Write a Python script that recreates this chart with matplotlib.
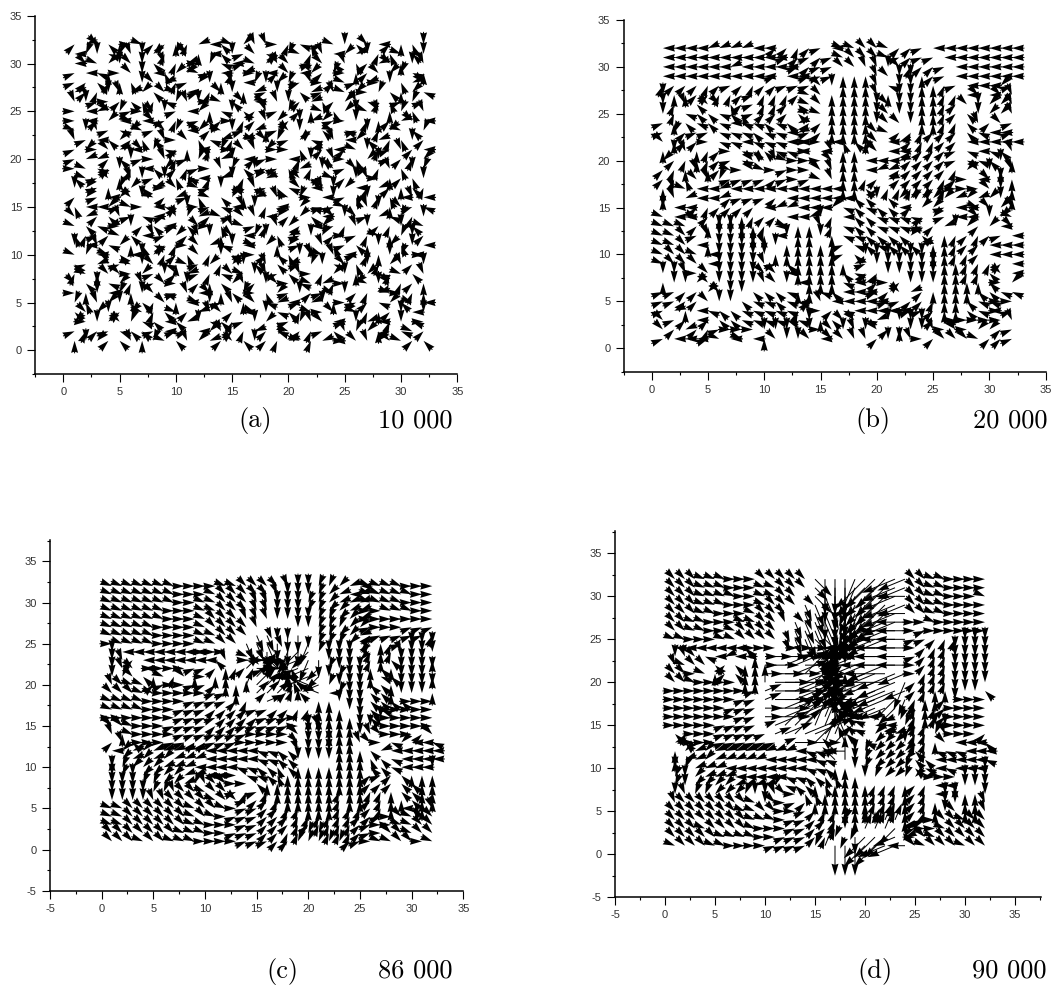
import matplotlib
matplotlib.use('Agg')
import numpy as np
import matplotlib.pyplot as plt
from matplotlib.ticker import MultipleLocator, NullFormatter

plt.rcParams['font.family'] = ['Liberation Sans', 'DejaVu Sans']
plt.rcParams['axes.unicode_minus'] = False

# one letter per arrow, rows from y=32 down to y=1, columns x=1..32
# a=east, then 22.5 degrees counter clockwise per letter (e=north, i=west, m=south)
SECTORS = 'abcdefghijklmnop'

DIR_A = [
    'cjogeapccedjigpknnadhfbpmgoicefm', 'ilmhlnmkdloeigmbohclpdnikjmdfpgm',
    'iopkmomgndjalhibpknohbognfcjoemn', 'biheaomifkkpbidjaicoikclaecoklhe',
    'bcgdefmojdbkmenilmklbnacpbjamfjo', 'jcdmnjkgopibdomejbmlgjbnpkalgekh',
    'nmbacgfdhlnmapgoipnmcjfcknhdfblb', 'aijolbaombikehmgcnblcepfkmpnelfn',
    'aickipiobdgbfcadcnkcmjkbamdecjoi', 'pmnbhkpbolikcpmbjebomcgphbmdkpgl',
    'nbigkcfgnaofhjdjpolbkhdnikgjdfmc', 'bkaojiolhceidlaonkaafjcicpmdbnci',
    'bjjcgmbandblnjmicbaidmgnafkmbcdk', 'aphcmdigkcdbanlgmbbfjdmobobdnfml',
    'gpboenmbmfhidjmdkjokogbpcmnaecfm', 'mkbelkgjaolpbmhbnbfhoinmkidjcegd',
    'ckbikompcjbfpglejonplaimbfmdfini', 'fiikbpaihcmabhinmdibkhbbplnmeobh',
    'ojcgnbhibnljcpbonikckgiomobjhldm', 'pghjamcgibgoafnpbdnkcikbdnmcdmgp',
    'fdbcpginbkcnmeoilmfjbmlcabdpelmc', 'minhkefhcdaojhmipkekbenfbgemkfmi',
    'plipgimkdcfodmgbacgfmnpnibdemlia', 'gbjnbpmohepbkdkmgngjblmhofmdkncm',
    'dpeooakbmcjbdhopmnbgnadkmekhdpgn', 'ogmhkdnboamcegkncmoahpjdakpmodce',
    'aemilemohbnioeglafkbmcbpmcdjpade', 'lfnkmfgdoeipmbneohjibjmeabchkgpi',
    'gokmckpdgpcjnocipmhgdpaokpdecmim', 'kamkolhgigjmhgdbmkfblnoibmjidmha',
    'bdcbhggbibbikncdjchpcdbgnlkebhpc', 'emkcgnelpgnkjcogmcdjpdjiaonkopcg',
]

DIR_B = [
    'iiiijjjjiiccdcbippoopccbiiiiiiii', 'iiiiiiiiiiibcbcbpooopbcbbiiiiiii',
    'iiiiiijiiiiibcbboonnmodccbiiiiii', 'iiiiiiiiiibiibbbeeenommecbiiiiii',
    'dcccdcbcdccbbbomeeenhmmeedbiiikb', 'meeccddcbdddcpoeeeenemmeeddioion',
    'mdngoofcbddcgpoeeeemommeedcomkkn', 'mdhgghgfbcccgppeeeemommeedcgmkkn',
    'beghghihhghgjcceeeemoomeeddgncob', 'blcbbhhhghhijbceeeeopcddcccghiib',
    'oeccahhihhhiiaaifgeoijcddcciiiii', 'emnedcahgghhiaineeloiiccccbhihgn',
    'kcdedcbhoonpaaaoeeiiijccccbhhgme', 'cdenecpaopabaaoneeijjcccccdkomen',
    'cdfonlbbbbcbabpneedcjccccdcaiome', 'enpiijiiiiiiiiiieegcdddccdaaaome',
    'enjiijcbbbciiiiiiggmgkkkkkjkjkme', 'miicdccccijjiiikhghggickkbiipokn',
    'piipceeedcciijmdigghhhhckbiiomkp', 'pppcemmeedipeendhgghhhhbcjmkckio',
    'ppobnmmmeeimeemehhggggkgcedcdcbi', 'ppoiemmmmnmeeeeebhghgggjeedcciii',
    'poopimmmmmeeeeeebgmmmmmmeeddciii', 'poooimmmmnbgeeeeejbmmmmmmeedddci',
    'mmnaommmmooieeeeghcdmmmmmeeddgoi', 'emmkommmmnomieeehijcacmmmeeeegak',
    'bbcckommgggheehgiiibcojceeeegghh', 'bbccommghhghhcniiiiibbccdeeghhaa',
    'bjeihgghhhhhdnachiiiiibbceeghiab', 'obcicgghhhhhhmegoohjmmmmchaaaaan',
    'ocjcdbaaammmnmaomnmocemmnaoakkcb', 'biiibpipieommoioonncmmnacooopccb',
]

DIR_C = [
    'pppppppaaaappoooonmmllkjippppaaa', 'pppppppaaapooooonmmmlkjijpppppaa',
    'pppppppaappooonnmmmllkjjjppppaaa', 'ppppppaaappooonnmmmllkkjjaapppaa',
    'ppppppaaapooonnnmmmmllkkjaaaaaaa', 'pppppaaaapoooonnmmmmlllkkbaaabbb',
    'pppppaaaappooonnnmmmllkkjcbbbbbd', 'appppaaaappoonnnmmmllllkjcedbmmm',
    'miiiiiiiiaaapoommlkklmmmkdednmmm', 'mnciiiiiiignaaaaiijlmmmmkdegmmme',
    'mnoiaaaabbcedcaaggjjklmmmegemmmm', 'mlogepdoeaeecbccbfijkmlmmehgmmme',
    'noppcbaabbceedccdefhjlmmmggemmmm', 'oooppaaaaabbeecccdfghilmmmggemme'[:25] + 'ggemmme',
    'ppppaaaabbbbcdcbcdegeemmmggggaaa', 'ppppaaabbbccccbbccddeeemmghaaaaa',
    'aaaaaaabbbbccccbbbaeeeeemgmaaaaa', 'oopaaabbbbcccbbbbbamneeemmnaaaaa',
    'nepaaaabbbbbbbaaaaommeeemnoaaaco', 'cngaaabbccbbbaaaaaommmeenoahkiih',
    'ikjkjjjjjiiiiihhggnmmmeeegjiiiii', 'ekjkjkjjjiiiiihhggmmmmeeefghiiii',
    'mlkkkjjjiiiihhggfgeeeeeeegghiiim', 'mlmkkkkjjiiaahhgfeeeeeeeecbcgeee',
    'mmmllkkjlnooaageeeeeeeeeecccggee', 'mmmmllnoopoobdbdeeeeeedeeddeggee',
    'mmmmnnoooopoobccdeeeeedeecdeegee', 'ppoooooopoopabbccddeeedddcdeigen',
    'ppoooooopopabbbcccddddddccbaopoo', 'ppooooooppaaabbcccdcddddcbaappoo',
    'ooooooopppaabbbccddlldddcbaoopoo', 'ooopoopppaaaabbbcclllllcbappooap',
]

DIR_D = [
    'ooopppaaaoooooommmlkkkjjiooppaaaa'[:24] + 'ooppaaaa', 'ooopppaaappoooommmlkkkjjooppaaaa',
    'oooppppaappoooonmmllkkjiooppaaap', 'ooopppaaapooonnmmmllkkjjooppaaaa',
    'oooppaaapoooonnnmmllkkjiooppaaaa', 'ooppaaappoonnnnnmmlkkjjiaapaaaaa',
    'ooppaapoooonnnnnmlkkjjiiabaaaaaa', 'ppaaappoooonnnoomlkjjjiibbcddmmm',
    'iiiiiiigaaaaaaamkkjiiiiiacddmmmm', 'mnohijiieaaaaaaaijjiiiiibcddmmmm',
    'npoogcgeeaabbaaaiijjijiiacddmmmm', 'ooapecgeeaaabcbbehijjijjadddmmmm',
    'oopaaaaeeeaaabccehjjjijlcdddmmmm', 'aaaaaaaabbaabbbcdeikjjjjcdeemmmg',
    'aaaaaaabbbaabbccegijjjkldeecmaaa', 'aaaaaabbbaabbccdeghjjjkldedcaaaa',
    'aaaaaaabbaabbbcdeghiiijkdedcaaaa', 'aaaaabbbbbbcccddefghiiclddmmaaaa',
    'gdaaabbbbbbbcbbcdfghkjjkddlnaaac', 'jgaaabbbbbbbaacdcfghkkkmddeoiiig',
    'ekjkjjjjjjjjihhigimlkkkkgdhhhiii', 'ejjkjjjjjiiiiihhgemlkkkkggiiiiih',
    'mljjjiiiiiiiihhgeemlkkklghihiiim', 'lmkjjjiiiiihhggffeemlkklkjaaammm',
    'lmkkkkjjjjlhggefeeeedddecdiiemmm', 'mnllkkklmmnoaffeeeeedddecdimmeem',
    'nooooooopmoabceeeeeedddecdemmeen', 'oooooooppooaabcddeeeeddecdemoeen',
    'oooooooopppabbccdleedddecbaoopoo', 'ooopoooopaaabbccdmldddkjbaapoooo',
    'oooooppppaabbbcdllmkkkjjaopooooo', 'poooppaaaabbbbldmmmkkjjiopooopoo',
]

# shaft length per arrow, 0 = only a head at the grid point, otherwise digit * 6 px
ZERO = '0' * 32
LEN_C = [ZERO] * 5 + [
    '0' * 15 + '222' + '0' * 14,
    '0' * 14 + '332332' + '0' * 12,
    '0' * 13 + '3343444' + '0' * 12,
    '0' * 12 + '23443454' + '0' * 12,
    '0' * 12 + '233134443' + '0' * 11,
    '0' * 13 + '33233553' + '0' * 11,
    '0' * 12 + '233233453' + '0' * 11,
    '0' * 13 + '34332343' + '0' * 11,
    '0' * 13 + '23332234' + '0' * 11,
    '0' * 14 + '232222' + '0' * 12,
] + [ZERO] * 17

LEN_D = [
    '0' * 14 + '4666777765' + '0' * 8,
    '0' * 14 + '3666777765' + '0' * 8,
    '0' * 13 + '24667777765' + '0' * 8,
    '0' * 13 + '34667777765' + '0' * 8,
    '0' * 12 + '234667777765' + '0' * 8,
    '0' * 12 + '345667777765' + '0' * 8,
    '0' * 11 + '2356677777765' + '0' * 8,
    '0' * 11 + '2345566777765' + '0' * 8,
    '0' * 11 + '2345522477775' + '0' * 8,
    '0' * 9 + '234553224566775' + '0' * 8,
    '0' * 9 + '245663224566775' + '0' * 8,
    '0' * 9 + '356663334566775' + '0' * 8,
    '0' * 9 + '367664434566775' + '0' * 8,
    '0' * 9 + '367765423456774' + '0' * 8,
    '0' * 9 + '367766322456653' + '0' * 8,
    '0' * 9 + '367777432345542' + '0' * 8,
    '0' * 9 + '367777432234320' + '0' * 8,
    '0' * 9 + '267777543220000' + '0' * 8,
    '0' * 10 + '35677654220000' + '0' * 8,
    '0' * 11 + '2466543200000' + '0' * 8,
    '0' * 16 + '34' + '0' * 14,
    '0' * 16 + '34' + '0' * 14,
] + [ZERO] * 6 + [
    '0' * 19 + '2233' + '0' * 9,
    '0' * 18 + '23344' + '0' * 9,
    '0' * 17 + '235554' + '0' * 9,
    '0' * 15 + '455555553' + '0' * 8,
]

CAPTIONS = [('(a)', '10 000'), ('(b)', '20 000'), ('(c)', '86 000'), ('(d)', '90 000')]
W, H = 1063, 992


def draw_arrows(ax, rows, lens=None):
    short_x, short_y, short_a = [], [], []
    long_x, long_y, long_a, long_l = [], [], [], []
    assert len(rows) == 32
    for r, row in enumerate(rows):
        assert len(row) == 32, row
        for c, ch in enumerate(row):
            a = SECTORS.index(ch) * 22.5
            d = int(lens[r][c]) if lens else 0
            if d == 0:
                short_x.append(c + 1)
                short_y.append(32 - r)
                short_a.append(a)
            else:
                long_x.append(c + 1)
                long_y.append(32 - r)
                long_a.append(a)
                long_l.append(d * 6.0)
    kw = dict(units='dots', scale_units='dots', scale=1, angles='uv', width=1.0,
              headwidth=7, headlength=12, headaxislength=11, minshaft=1, minlength=0,
              color='k', zorder=3, clip_on=False)
    a = np.radians(short_a)
    ax.quiver(short_x, short_y, 12.5 * np.cos(a), 12.5 * np.sin(a), pivot='tip', **kw)
    if long_x:
        a = np.radians(long_a)
        l = np.maximum(long_l, 12.5)
        ax.quiver(long_x, long_y, l * np.cos(a), l * np.sin(a), pivot='tail', **kw)


def make_axes(fig, left, right, top, bottom, xlim, ylim):
    ax = fig.add_axes([left / W, 1 - bottom / H, (right - left) / W, (bottom - top) / H])
    ax.set_xlim(xlim)
    ax.set_ylim(ylim)
    ax.spines['top'].set_visible(False)
    ax.spines['right'].set_visible(False)
    ax.spines['left'].set_linewidth(1.1)
    ax.spines['bottom'].set_linewidth(1.1)
    ax.xaxis.set_major_locator(MultipleLocator(5))
    ax.yaxis.set_major_locator(MultipleLocator(5))
    ax.xaxis.set_minor_locator(MultipleLocator(2.5))
    ax.yaxis.set_minor_locator(MultipleLocator(2.5))
    ax.xaxis.set_minor_formatter(NullFormatter())
    ax.yaxis.set_minor_formatter(NullFormatter())
    ax.tick_params(which='major', length=5.5, width=0.8, labelsize=8, labelcolor='#333333', pad=4)
    ax.tick_params(which='minor', length=2.5, width=0.8)
    ax.patch.set_alpha(0)
    return ax


fig = plt.figure(figsize=(W / 100, H / 100), dpi=100)

ax = make_axes(fig, 35.2, 457.3, 15.7, 374.3, (-2.5, 35), (-2.5, 35))
draw_arrows(ax, DIR_A)

ax = make_axes(fig, 623.5, 1045.7, 20, 371.7, (-2.5, 35), (-2.5, 35))
draw_arrows(ax, DIR_B)

ax = make_axes(fig, 50, 463.3, 540, 890.7, (-5, 35), (-5, 37.6))
draw_arrows(ax, DIR_C, LEN_C)

ax = make_axes(fig, 615, 1041, 531, 897.3, (-5, 37.6), (-5, 37.6))
draw_arrows(ax, DIR_D, LEN_D)

cap_pos = [(238, 378, 427), (855, 973, 427), (266, 378, 978), (857, 972, 978)]
for (tag, num), (x0, x1, yb) in zip(CAPTIONS, cap_pos):
    fig.text(x0 / W, 1 - yb / H, tag, family='cmr10', fontsize=19, va='baseline')
    fig.text(x1 / W, 1 - yb / H, num, family='cmr10', fontsize=19, va='baseline')

fig.savefig('out.png', dpi=100)
plt.close(fig)
